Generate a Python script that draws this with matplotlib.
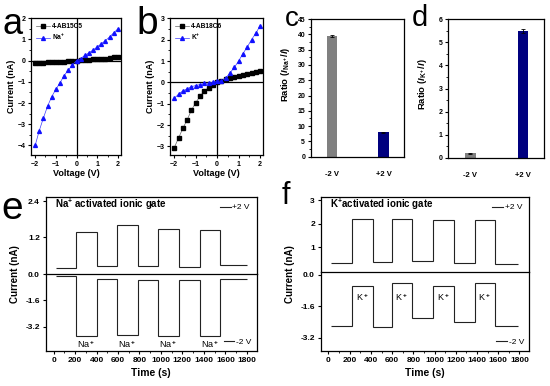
import numpy as np
import matplotlib
matplotlib.use("Agg")
import matplotlib.pyplot as plt
from matplotlib.ticker import AutoMinorLocator

plt.rcParams['font.family'] = ['Liberation Sans', 'DejaVu Sans']
plt.rcParams['font.weight'] = 'bold'
plt.rcParams['axes.linewidth'] = 0.9
plt.rcParams['mathtext.fontset'] = 'custom'
plt.rcParams['mathtext.rm'] = 'Liberation Sans'
plt.rcParams['mathtext.it'] = 'Liberation Sans:italic'
plt.rcParams['mathtext.bf'] = 'Liberation Sans:bold'
plt.rcParams['mathtext.bfit'] = 'Liberation Sans:bold:italic'

# ---- datos ----
voltage = [-2.0, -1.8, -1.6, -1.4, -1.2, -1.0, -0.8, -0.6, -0.4, -0.2, 0.0,
           0.2, 0.4, 0.6, 0.8, 1.0, 1.2, 1.4, 1.6, 1.8, 2.0]
ab15c5 = [-0.10, -0.10, -0.09, -0.08, -0.07, -0.06, -0.05, -0.04, -0.03, -0.01, 0.0,
          0.02, 0.03, 0.05, 0.06, 0.07, 0.08, 0.10, 0.13, 0.17, 0.18]
na_iv = [-4.0, -3.3, -2.7, -2.15, -1.7, -1.35, -1.05, -0.7, -0.45, -0.2, 0.0,
         0.1, 0.25, 0.37, 0.5, 0.65, 0.8, 0.95, 1.12, 1.32, 1.5]
ab18c6 = [-3.05, -2.6, -2.15, -1.75, -1.3, -0.95, -0.65, -0.4, -0.25, -0.1, 0.0,
          0.05, 0.15, 0.2, 0.25, 0.3, 0.35, 0.4, 0.45, 0.5, 0.55]
k_iv = [-0.75, -0.55, -0.4, -0.3, -0.2, -0.15, -0.1, -0.05, -0.03, 0.0, 0.05,
        0.07, 0.2, 0.45, 0.7, 1.0, 1.35, 1.65, 2.0, 2.3, 2.65]

bias_labels = ['-2 V', '+2 V']
ratio_na = [39.5, 8.0]
ratio_na_err = [0.25, 0.15]
ratio_k = [0.2, 5.48]
ratio_k_err = [0.02, 0.09]

# tiempos de cambio (s) y niveles de corriente (nA)
na_edges = [22, 210, 401, 595, 783, 974, 1168, 1362, 1550, 1800]
na_pos = [0.16, 1.36, 0.21, 1.62, 0.22, 1.46, 0.19, 1.44, 0.24]
na_neg = [-0.12, -3.75, -0.30, -3.69, -0.33, -3.75, -0.33, -3.77, -0.29]
k_edges = [22, 226, 418, 597, 783, 987, 1185, 1377, 1569, 1790]
k_pos = [0.32, 2.22, 0.37, 2.2, 0.41, 2.18, 0.32, 2.18, 0.30]
k_neg = [-2.59, -0.58, -2.64, -0.43, -2.2, -0.58, -2.42, -0.41, -2.59]

W, H = 550, 386
fig = plt.figure(figsize=(W / 100, H / 100), dpi=100)
fig.set_facecolor('white')


def caja(l, r, t, b):
    # pixeles -> fraccion de figura
    return [l / W, 1 - b / H, (r - l) / W, (b - t) / H]


def estilo(ax, size=5):
    ax.tick_params(direction='out', length=2.5, width=0.8, labelsize=size, pad=1.5)
    ax.tick_params(which='minor', direction='out', length=1.5, width=0.6)
    for lab in ax.get_xticklabels() + ax.get_yticklabels():
        lab.set_fontweight('bold')


# ---- a y b: curvas I-V ----
def panel_iv(pos, y1, y2, name1, name2, ylim, yticks):
    ax = fig.add_axes(pos)
    ax.axhline(0, color='black', lw=0.9)
    ax.axvline(0, color='black', lw=0.9)
    ax.plot(voltage, y1, color='0.4', lw=0.5, marker='s', ms=2.2, mfc='black', mec='black', label=name1)
    ax.plot(voltage, y2, color='#3a3aff', lw=0.5, marker='^', ms=2.8, mfc='#1010ff', mec='#1010ff', label=name2)
    ax.set_xlim(-2.2, 2.15)
    ax.set_ylim(*ylim)
    ax.set_xticks([-2, -1, 0, 1, 2])
    ax.set_yticks(yticks)
    ax.xaxis.set_minor_locator(AutoMinorLocator(2))
    ax.yaxis.set_minor_locator(AutoMinorLocator(2))
    estilo(ax)
    ax.set_xlabel('Voltage (V)', fontsize=6.5, fontweight='bold', labelpad=1)
    ax.set_ylabel('Current (nA)', fontsize=6.5, fontweight='bold', labelpad=1)
    ax.legend(loc='upper left', fontsize=4.8, frameon=False, handlelength=2.2,
              handletextpad=0.3, labelspacing=0.3, borderaxespad=0.3, numpoints=1)
    return ax


ax_a = panel_iv(caja(31, 121, 18.3, 155), ab15c5, na_iv, '4-AB15C5', 'Na$^{\\mathbf{+}}$',
                (-4.45, 2), [-4, -3, -2, -1, 0, 1, 2])
ax_b = panel_iv(caja(170, 263.3, 18.3, 155), ab18c6, k_iv, '4-AB18C6', 'K$^{\\mathbf{+}}$',
                (-3.4, 3), [-3, -2, -1, 0, 1, 2, 3])


# ---- c y d: barras de razon ----
def panel_barras(pos, vals, errs, ylim, yticks, ylabel, label_y):
    ax = fig.add_axes(pos)
    x = np.arange(len(bias_labels))
    ax.bar(x, vals, width=0.2, color=['#808080', '#00007f'], yerr=errs,
           error_kw=dict(ecolor='black', elinewidth=0.6, capsize=1.5, capthick=0.6))
    ax.set_xlim(-0.42, 1.4)
    ax.set_ylim(*ylim)
    ax.set_yticks(yticks)
    ax.yaxis.set_minor_locator(AutoMinorLocator(2))
    ax.set_xticks(x)
    ax.set_xticklabels(bias_labels)
    estilo(ax)
    ax.tick_params(axis='x', length=0, pad=10, labelsize=5.5)
    ax.set_ylabel(ylabel, fontsize=6.8, fontweight='bold', labelpad=2)
    ax.yaxis.set_label_coords(-0.2, label_y)
    return ax


ax_c = panel_barras(caja(310.7, 404, 19, 156.7), ratio_na, ratio_na_err, (0, 45),
                    range(0, 46, 5), 'Ratio ($\\mathbfit{I}_{\\mathbf{Na^+}}$/$\\mathbfit{I}$)', 0.6)
ax_d = panel_barras(caja(448.3, 544.3, 19, 158), ratio_k, ratio_k_err, (0, 6),
                    range(0, 7), 'Ratio ($\\mathbfit{I}_{\\mathbf{K^+}}$/$\\mathbfit{I}$)', 0.53)


# ---- e y f: compuertas ionicas ----
def panel_puerta(l, r, t, m, b, edges, pos_vals, neg_vals, top_lim, top_ticks,
                 bot_lim, titulo, ion, ion_y):
    at = fig.add_axes(caja(l, r, t, m))
    ab = fig.add_axes(caja(l, r, m, b))
    at.stairs(pos_vals, edges, baseline=None, color='#222222', lw=0.8, label='+2 V')
    ab.stairs(neg_vals, edges, baseline=None, color='#222222', lw=0.8, label='-2 V')
    for ax in (at, ab):
        ax.set_xlim(-75, 1890)
    at.set_ylim(*top_lim)
    ab.set_ylim(*bot_lim)
    at.set_yticks(top_ticks)
    at.set_yticklabels([str(v) for v in top_ticks])
    ab.set_yticks([0.0, -1.6, -3.2])
    ab.set_yticklabels(['0.0', '-1.6', '-3.2'])
    at.spines['bottom'].set_visible(False)
    at.set_xticks([])
    ab.set_xticks(range(0, 1801, 200))
    ab.xaxis.set_minor_locator(AutoMinorLocator(2))
    estilo(at, 6)
    estilo(ab, 6)
    ab.set_xlabel('Time (s)', fontsize=7.5, fontweight='bold', labelpad=3)
    at.text(0.045, 0.9, titulo, transform=at.transAxes, fontsize=7,
            fontweight='bold', va='center', ha='left')
    at.legend(loc='upper right', frameon=False, handlelength=1.3,
              handletextpad=0.2, borderaxespad=0.4, prop={'weight': 'normal', 'size': 6})
    ab.legend(loc='lower right', frameon=False, handlelength=1.3,
              handletextpad=0.2, borderaxespad=0.2, prop={'weight': 'normal', 'size': 6})
    # etiquetas de ion en los tramos activados
    for i in range(1, len(edges) - 1, 2):
        xm = (edges[i] + edges[i + 1]) / 2
        ab.text(xm, ion_y, ion, fontsize=6.5, fontweight='normal', ha='center', va='center')
    fig.text(l / W - 0.055, 1 - (t + b) / 2 / H, 'Current (nA)', rotation=90,
             fontsize=7, fontweight='bold', ha='center', va='center')
    return at, ab


panel_puerta(45.5, 256.5, 197, 273.5, 351, na_edges, na_pos, na_neg,
             (-0.03, 2.55), [1.2, 2.4], (-4.7, 0.05),
             'Na$^{\\mathbf{+}}$ activated ionic gate', 'Na$^+$', -4.3)
panel_puerta(320.5, 529, 197, 272, 351, k_edges, k_pos, k_neg,
             (-0.06, 3.14), [1, 2, 3], (-3.88, 0.14),
             'K$^{\\mathbf{+}}$activated ionic gate', 'K$^+$', -1.15)

# letras de los paneles
for letra, x, y, fs in [('a', 2, 34, 26), ('b', 136, 34, 28), ('c', 285, 26, 20),
                        ('d', 412, 26, 21), ('e', 1, 219, 28), ('f', 282, 204, 22)]:
    fig.text(x / W, 1 - y / H, letra, fontsize=fs, fontweight='normal',
             ha='left', va='baseline')

fig.savefig('out.png', dpi=100)
